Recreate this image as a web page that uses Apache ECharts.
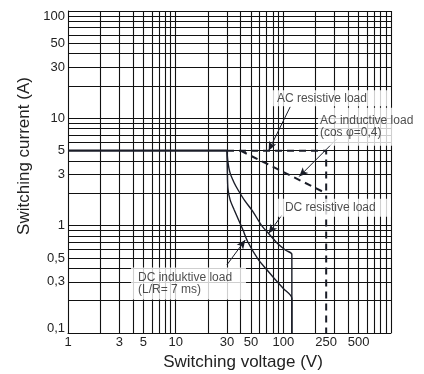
<!DOCTYPE html>
<html>
<head>
<meta charset="utf-8">
<script src="https://cdn.jsdelivr.net/npm/echarts@6/dist/echarts.min.js"></script>
<style>
html, body { margin: 0; padding: 0; background: #fff; }
#main { width: 424px; height: 374px; }
</style>
</head>
<body>
<div id="main"></div>
<script>
// grid lines (1..9 per decade) and labelled values
var voltTicks = [1, 2, 3, 4, 5, 6, 7, 8, 9, 10, 20, 30, 40, 50, 60, 70, 80, 90, 100, 200, 300, 400, 500, 600, 700, 800, 900, 1000];
var voltLabels = [1, 3, 5, 10, 30, 50, 100, 250, 500];
var currTicks = [0.1, 0.2, 0.3, 0.4, 0.5, 0.6, 0.7, 0.8, 0.9, 1, 2, 3, 4, 5, 6, 7, 8, 9, 10, 20, 30, 40, 50, 60, 70, 80, 90, 100];
var currLabels = [0.1, 0.3, 0.5, 1, 3, 5, 10, 30, 50, 100];

// limit curves [voltage V, current A]
var commonLimit = [[1, 5], [30, 5]];
var dcResistive = [[30, 5], [30.5, 4], [32, 3.1], [35, 2.5], [38, 2.15], [44, 1.7], [52, 1.36], [63, 1.0], [75, 0.82], [90, 0.67], [105, 0.59], [120, 0.54], [120, 0.1]];
var dcInductive = [[30, 5], [30.2, 3.2], [30.6, 2.2], [32, 1.75], [35, 1.4], [42, 0.92], [47, 0.7], [58, 0.49], [70, 0.39], [84, 0.315], [100, 0.26], [120, 0.21], [120, 0.1]];
var acResistive = [[30, 5], [250, 5], [250, 0.1]];
var acInductive = [[40, 5], [250, 2]];

// annotations
var noteText = ['AC resistive load', 'AC inductive load\n(cos \u03c6=0,4)', 'DC resistive load', 'DC induktive load\n(L/R= 7 ms)'];
var notePos = [[75, 15.35], [209.5, 8.34], [83.6, 1.47], [3.85, 0.289]];
var arrowFrom = [[115.9, 12.8], [314.6, 6.45], [97.1, 1.257], [29.9, 0.431]];
var arrowTo = [[73.1, 5], [140.5, 2.87], [73.1, 0.848], [44.3, 0.736]];

var ink = '#1a1d28';
var gridInk = '#111';
var font = "'Liberation Sans', Arial, sans-serif";

function fmt(v) {
    return String(v).replace('.', ',');
}

var noteData = [];
for (var i = 0; i < noteText.length; i++) {
    noteData.push({ value: notePos[i], name: noteText[i] });
}
var noteBoxes = [
    { width: 114, padding: [2, 0, 2, 7] },
    { width: 96, padding: [4, 0, 10, 2] },
    { width: 106, padding: [3, 0, 3, 10] },
    { width: 108, padding: [4, 0, 4, 7] }
];
noteData.forEach(function (d, i) {
    d.label = noteBoxes[i];
});

var arrows = [];
for (var j = 0; j < arrowFrom.length; j++) {
    arrows.push([{ coord: arrowFrom[j] }, { coord: arrowTo[j] }]);
}

var chart = echarts.init(document.getElementById('main'));
var option = {
    animation: false,
    textStyle: { fontFamily: font },
    grid: {
        left: 68,
        right: 33,
        top: 11,
        bottom: 41,
        containLabel: false,
        outerBoundsMode: 'none'
    },
    xAxis: {
        type: 'log',
        logBase: 10,
        min: 1,
        max: 1000,
        name: 'Switching voltage (V)',
        nameLocation: 'middle',
        nameGap: 19,
        nameTextStyle: { fontSize: 17, color: '#222', padding: [0, 0, 0, 27] },
        axisLine: { show: true, lineStyle: { color: gridInk, width: 1 } },
        axisTick: { show: false, customValues: voltTicks },
        splitLine: { show: true, lineStyle: { color: gridInk, width: 1.1 } },
        axisLabel: {
            customValues: voltLabels,
            fontSize: 13,
            color: '#222',
            margin: 3,
            formatter: fmt
        }
    },
    yAxis: {
        type: 'log',
        logBase: 10,
        min: 0.1,
        max: 100,
        name: 'Switching current (A)',
        nameLocation: 'middle',
        nameGap: 34,
        nameTextStyle: { fontSize: 17, color: '#222', padding: [0, 0, 0, 32] },
        axisLine: { show: true, lineStyle: { color: gridInk, width: 1 } },
        axisTick: { show: false, customValues: currTicks },
        splitLine: { show: true, lineStyle: { color: gridInk, width: 1.1 } },
        axisLabel: {
            customValues: currLabels,
            fontSize: 13,
            color: '#222',
            margin: 3,
            formatter: function (v) {
                if (v === 100) return '{t|100}';
                if (v === 0.1) return '{b|0,1}';
                return fmt(v);
            },
            rich: {
                t: { fontSize: 13, color: '#222', padding: [11, 0, 0, 0] },
                b: { fontSize: 13, color: '#222', padding: [0, 0, 9, 0] }
            }
        }
    },
    series: [
        {
            name: 'common',
            type: 'line',
            data: commonLimit,
            showSymbol: false,
            lineStyle: { color: ink, width: 2.2 }
        },
        {
            name: 'DC resistive load',
            type: 'line',
            data: dcResistive,
            showSymbol: false,
            smooth: 0.3,
            lineStyle: { color: ink, width: 1.4 }
        },
        {
            name: 'DC induktive load',
            type: 'line',
            data: dcInductive,
            showSymbol: false,
            smooth: 0.3,
            lineStyle: { color: ink, width: 1.4 }
        },
        {
            name: 'AC resistive load',
            type: 'line',
            data: acResistive,
            showSymbol: false,
            lineStyle: { color: ink, width: 2, type: [7, 5] }
        },
        {
            name: 'AC inductive load',
            type: 'line',
            data: acInductive,
            showSymbol: false,
            lineStyle: { color: ink, width: 2, type: [7, 5] }
        },
        {
            name: 'notes',
            type: 'scatter',
            z: 10,
            symbolSize: 0,
            data: noteData,
            label: {
                show: true,
                position: 'right',
                distance: 0,
                align: 'left',
                formatter: '{b}',
                fontSize: 12,
                lineHeight: 12,
                color: '#222',
                backgroundColor: '#fff'
            },
            markLine: {
                silent: true,
                symbol: ['none', 'arrow'],
                symbolSize: [6, 9],
                label: { show: false },
                lineStyle: { color: ink, width: 1, type: 'solid' },
                data: arrows
            }
        }
    ]
};
chart.setOption(option);
</script>
</body>
</html>
